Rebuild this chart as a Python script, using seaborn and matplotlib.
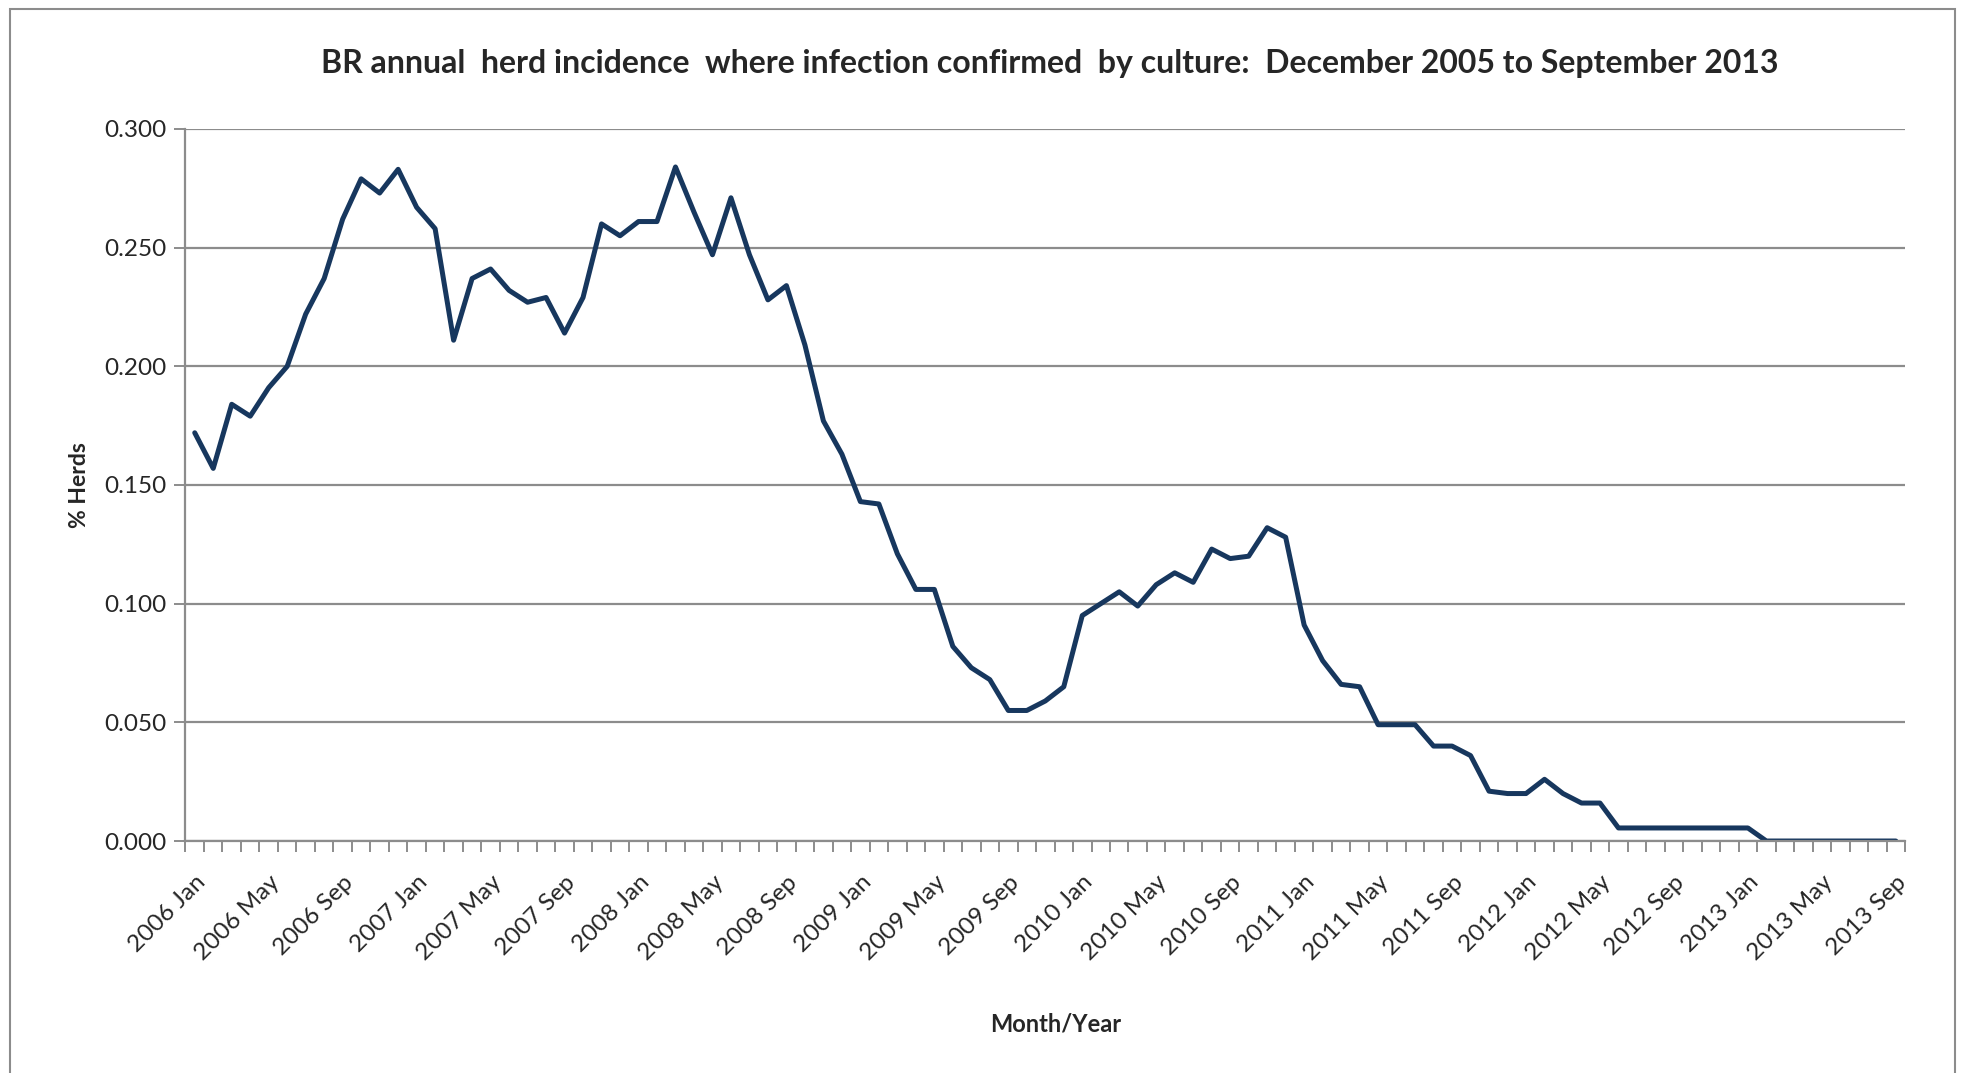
import pandas as pd
import seaborn as sns
import matplotlib.pyplot as plt
from matplotlib.patches import Rectangle
from matplotlib.ticker import FixedLocator, FuncFormatter

# Datos: incidencia anual (% rebaños), mensual de 2006 Jan a 2013 Sep
months = pd.date_range("2006-01-01", "2013-09-01", freq="MS").strftime("%Y %b").tolist()
herds = [
    0.172, 0.157, 0.184, 0.179, 0.191, 0.200, 0.222, 0.237, 0.262, 0.279, 0.273, 0.283,  # 2006
    0.267, 0.258, 0.211, 0.237, 0.241, 0.232, 0.227, 0.229, 0.214, 0.229, 0.260, 0.255,  # 2007
    0.261, 0.261, 0.284, 0.265, 0.247, 0.271, 0.247, 0.228, 0.234, 0.209, 0.177, 0.163,  # 2008
    0.143, 0.142, 0.121, 0.106, 0.106, 0.082, 0.073, 0.068, 0.055, 0.055, 0.059, 0.065,  # 2009
    0.095, 0.100, 0.105, 0.099, 0.108, 0.113, 0.109, 0.123, 0.119, 0.120, 0.132, 0.128,  # 2010
    0.091, 0.076, 0.066, 0.065, 0.049, 0.049, 0.049, 0.040, 0.040, 0.036, 0.021, 0.020,  # 2011
    0.020, 0.026, 0.020, 0.016, 0.016, 0.0055, 0.0055, 0.0055, 0.0055, 0.0055, 0.0055, 0.0055,  # 2012
    0.0055, 0.0, 0.0, 0.0, 0.0, 0.0, 0.0, 0.0, 0.0,  # 2013
]
yticks = [0.0, 0.05, 0.10, 0.15, 0.20, 0.25, 0.30]

data = pd.DataFrame({"pos": range(len(months)), "Mes": months, "Herds": herds})

sns.set_style("white")
plt.rcParams['font.family'] = ['Lato', 'DejaVu Sans']

fig = plt.figure(figsize=(19.65, 10.73), dpi=100)
ax = fig.add_axes([0.0944, 0.2162, 0.8751, 0.6636])

sns.lineplot(data=data, x="pos", y="Herds", color="#17375E", linewidth=3.6, ax=ax)

grid_col = "#8C8C8C"
ax.set_xlim(-0.5, len(months) - 0.5)
ax.set_ylim(0, 0.30)
ax.set_yticks(yticks)
ax.yaxis.set_major_formatter(FuncFormatter(lambda v, p: f"{v:.3f}"))
ax.grid(axis="y", color=grid_col, linewidth=1.6)
ax.grid(axis="x", visible=False)

# Marcas del eje x en los límites de cada categoría, etiquetas cada 4 meses
ax.xaxis.set_minor_locator(FixedLocator([i - 0.5 for i in range(len(months) + 1)]))
lab_pos = list(range(0, len(months), 4))
ax.set_xticks(lab_pos)
ax.set_xticklabels([months[i] for i in lab_pos], rotation=45, ha="right",
                   rotation_mode="anchor", fontsize=17.5)
ax.tick_params(axis="x", which="major", length=0, pad=22)
ax.tick_params(axis="x", which="minor", length=8, width=1.4, color=grid_col, direction="out")
ax.tick_params(axis="y", length=8, width=1.4, color=grid_col, direction="out", labelsize=17.5, pad=6)
ax.xaxis.set_ticks_position("bottom")
ax.yaxis.set_ticks_position("left")

for s in ["top", "right"]:
    ax.spines[s].set_visible(False)
for s in ["left", "bottom"]:
    ax.spines[s].set_color(grid_col)
    ax.spines[s].set_linewidth(1.6)

ax.set_xlabel("")
ax.set_ylabel("% Herds", fontsize=16.5, fontweight="bold", labelpad=10)
fig.text(0.537, 0.046, "Month/Year", fontsize=17, fontweight="bold", ha="center", va="center")
fig.text(0.534, 0.941, "BR annual  herd incidence  where infection confirmed  by culture:  December 2005 to September 2013",
         fontsize=23, fontweight="bold", ha="center", va="center")

# Marco exterior del gráfico
fig.patches.append(Rectangle((0.005, -0.01), 0.990, 1.0016, transform=fig.transFigure,
                             fill=False, edgecolor="#8C8C8C", linewidth=1.5))

plt.savefig("out.png", dpi=100)
